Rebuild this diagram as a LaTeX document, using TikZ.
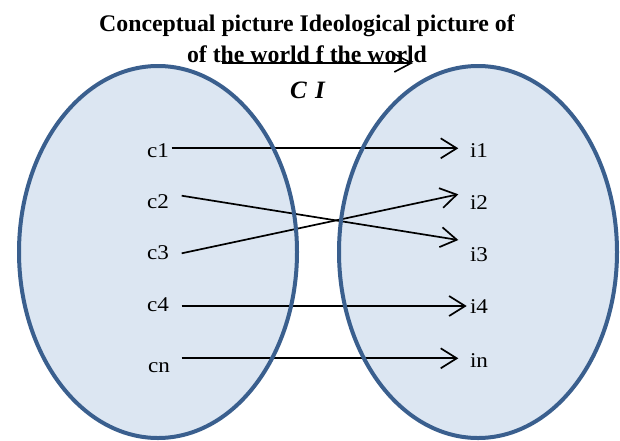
\documentclass[tikz,border=0pt]{standalone}
\usepackage{fontspec}
\setmainfont{Liberation Serif}
\newfontfamily\labelfont[FakeStretch=1.1]{Liberation Serif}
\usetikzlibrary{arrows.meta}
\definecolor{setfill}{HTML}{DCE6F2}
\definecolor{setedge}{HTML}{3A5F8E}
\begin{document}
\begin{tikzpicture}[x=1pt,y=-1pt,
  settitle/.style={font=\fontsize{23.8}{28}\selectfont\bfseries, anchor=base, inner sep=0pt},
  setlabel/.style={font=\labelfont\fontsize{21}{24}\selectfont, anchor=base, inner sep=0pt},
  maparrow/.style={line width=1.7pt, -{Straight Barb[length=16pt,width=20pt,line width=1.7pt]}}]
\useasboundingbox (0,0) rectangle (620,440);
% ellipse fills
\fill[setfill] (158,252) ellipse [x radius=139, y radius=186];
\fill[setfill] (478,252) ellipse [x radius=139, y radius=186];
% title
\node[settitle] (t1) at (307,31) {Conceptual picture Ideological picture of};
\node[settitle] (t2) at (307,62) {of the world f the world};
\node[font=\fontsize{25}{30}\selectfont\bfseries\itshape, anchor=base, inner sep=0pt] (ci) at (307.5,98) {C\,\,I};
\coordinate (ta) at (222,63);
\coordinate (tb) at (413,63);
\draw[line width=1.6pt, -{Straight Barb[length=17pt,width=18pt,line width=1.6pt]}] (ta) -- (tb);
% labels
\node[setlabel] (c1) at (158,157) {c1};
\node[setlabel] (c2) at (158,208) {c2};
\node[setlabel] (c3) at (158,259) {c3};
\node[setlabel] (c4) at (158,311) {c4};
\node[setlabel] (cn) at (159,372) {cn};
\node[setlabel] (i1) at (479,157) {i1};
\node[setlabel] (i2) at (479,209) {i2};
\node[setlabel] (i3) at (479,261) {i3};
\node[setlabel] (i4) at (479,313) {i4};
\node[setlabel] (in) at (479,367) {in};
% connector ends
\coordinate (c1s) at (171.7,148.3);
\coordinate (c2s) at (181.7,195.7);
\coordinate (c3s) at (181.7,253.3);
\coordinate (c4s) at (181.7,306);
\coordinate (cns) at (181.7,358.3);
\coordinate (i1e) at (458.3,148.3);
\coordinate (i2e) at (458.3,194.3);
\coordinate (i3e) at (458.3,240);
\coordinate (i4e) at (466.7,306);
\coordinate (ine) at (458.3,358.3);
\draw[maparrow] (c1s) -- (i1e);
\draw[maparrow] (c2s) -- (i3e);
\draw[maparrow] (c3s) -- (i2e);
\draw[maparrow] (c4s) -- (i4e);
\draw[maparrow] (cns) -- (ine);
% ellipse borders
\draw[setedge, line width=4pt] (158,252) ellipse [x radius=139, y radius=186];
\draw[setedge, line width=4pt] (478,252) ellipse [x radius=139, y radius=186];
\end{tikzpicture}
\end{document}
